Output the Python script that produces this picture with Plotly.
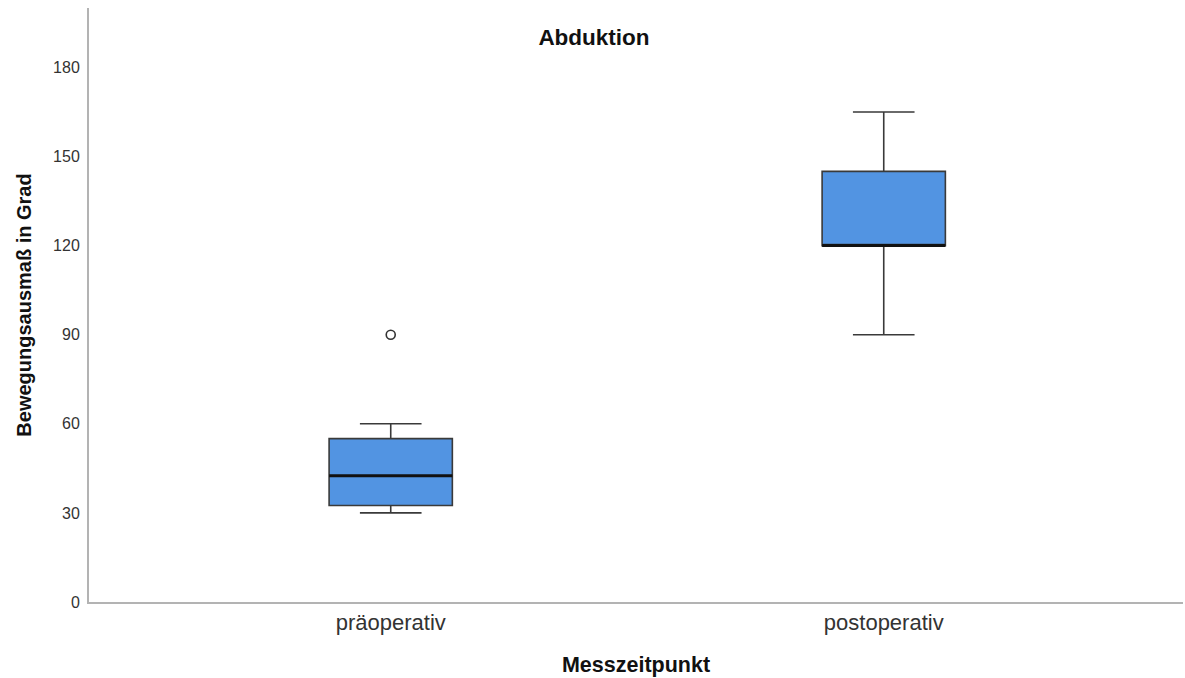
import plotly.graph_objects as go

# ---- data ----
categories = ["präoperativ", "postoperativ"]
q1 = [32.5, 120]
median = [42.5, 120]
q3 = [55, 145]
lower_whisker = [30, 90]
upper_whisker = [60, 165]
outlier_cat = ["präoperativ"]
outlier_val = [90]

y_ticks = [0, 30, 60, 90, 120, 150, 180]

FONT = "Liberation Sans, Arial, sans-serif"
fill = "rgb(82,148,226)"

fig = go.Figure()

fig.add_trace(go.Box(
    x=categories, q1=q1, median=median, q3=q3,
    lowerfence=lower_whisker, upperfence=upper_whisker,
    fillcolor=fill, line=dict(color="#3a3a3a", width=1.6),
    whiskerwidth=0.5, width=0.25, boxpoints=False,
    showlegend=False, hoverinfo="skip",
))

# thicker median line drawn as a degenerate box at the median
fig.add_trace(go.Box(
    x=categories, q1=median, median=median, q3=median,
    lowerfence=median, upperfence=median,
    fillcolor="rgba(0,0,0,0)", line=dict(color="#111111", width=3),
    whiskerwidth=0.5, width=0.25, boxpoints=False,
    showlegend=False, hoverinfo="skip",
))

fig.add_trace(go.Scatter(
    x=outlier_cat, y=outlier_val, mode="markers",
    marker=dict(symbol="circle-open", size=9, color="#333333",
                line=dict(width=1.6, color="#333333")),
    showlegend=False, hoverinfo="skip",
))

fig.update_layout(
    width=1185, height=678,
    margin=dict(l=89, r=2, t=8, b=76),
    paper_bgcolor="white", plot_bgcolor="white",
    boxmode="overlay",
    font=dict(family=FONT, color="#222222"),
    title=dict(text="<b>Abduktion</b>", x=594/1185, xanchor="center",
               y=1-37/678, yanchor="middle", xref="container", yref="container",
               font=dict(size=22.5, color="#111111", family=FONT)),
)

fig.update_xaxes(
    type="category", categoryorder="array", categoryarray=categories,
    range=[-0.612, 1.607],
    showline=True, linecolor="#b3b3b3", linewidth=2,
    showgrid=False, zeroline=False, ticks="",
    ticklabelstandoff=0,
    tickfont=dict(size=22, color="#333333", family=FONT),
    title=dict(text="<b>Messzeitpunkt</b>", standoff=23,
               font=dict(size=21.5, color="#111111", family=FONT)),
)

fig.update_yaxes(
    range=[0, 200], tickvals=y_ticks,
    showline=True, linecolor="#b3b3b3", linewidth=2,
    showgrid=False, zeroline=False, ticks="",
    ticklabelstandoff=4,
    tickfont=dict(size=16, color="#333333", family=FONT),
    title=dict(text="<b>Bewegungsausmaß in Grad</b>", standoff=16,
               font=dict(size=20, color="#111111", family=FONT)),
)

fig.write_html(
    "out.html",
    config={"displayModeBar": False},
    post_script="document.body.style.margin='0';document.body.style.padding='0';",
)
